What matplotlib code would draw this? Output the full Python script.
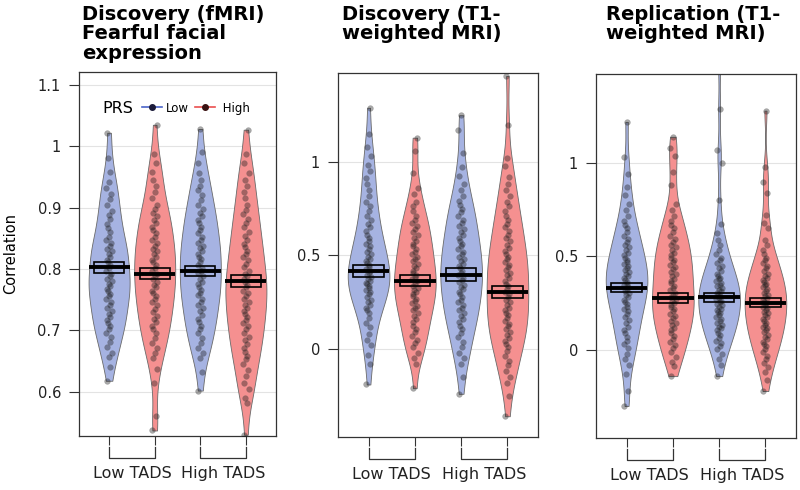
import numpy as np
import matplotlib
matplotlib.use("Agg")
import matplotlib.pyplot as plt
from matplotlib.lines import Line2D
from matplotlib.patches import Rectangle

plt.rcParams['font.family'] = ['DejaVu Sans']

# ---- data ----
titles = ["Discovery (fMRI)\nFearful facial\nexpression",
          "Discovery (T1-\nweighted MRI)",
          "Replication (T1-\nweighted MRI)"]
prs_labels = ["Low", "High"]
tads_labels = ["Low TADS", "High TADS"]

# order in each panel: LowPRS/LowTADS, HighPRS/LowTADS, LowPRS/HighTADS, HighPRS/HighTADS
fmri_low_lo = [0.618, 0.641,
               0.656, 0.664, 0.673, 0.681, 0.689, 0.696,
               0.702, 0.707, 0.712, 0.717, 0.722, 0.727, 0.732, 0.737, 0.742, 0.747,
               0.752, 0.756, 0.760, 0.764, 0.768, 0.772, 0.776, 0.780, 0.784, 0.788,
               0.792, 0.796,
               0.802, 0.806, 0.811, 0.815, 0.820, 0.824, 0.829, 0.833, 0.838, 0.842, 0.847,
               0.853, 0.860, 0.867, 0.874, 0.881, 0.888, 0.895,
               0.905, 0.914, 0.923, 0.932, 0.942,
               0.958, 0.981, 1.022]
fmri_high_lo = [0.537, 0.561, 0.614, 0.637,
                0.655, 0.663, 0.672, 0.680, 0.688, 0.695,
                0.702, 0.708, 0.713, 0.719, 0.724, 0.730, 0.735, 0.741, 0.746,
                0.752, 0.756, 0.761, 0.765, 0.770, 0.774, 0.779, 0.783, 0.788, 0.792, 0.797,
                0.802, 0.806, 0.811, 0.815, 0.820, 0.824, 0.829, 0.833, 0.838, 0.842, 0.847,
                0.853, 0.858, 0.864, 0.869, 0.875, 0.880, 0.886, 0.891, 0.897,
                0.905, 0.915, 0.925, 0.935, 0.945,
                0.958, 0.972, 0.988, 1.035]
fmri_low_hi = [0.602, 0.633,
               0.655, 0.663, 0.672, 0.680, 0.688, 0.696,
               0.703, 0.708, 0.714, 0.719, 0.725, 0.731, 0.736, 0.742, 0.747,
               0.752, 0.757, 0.761, 0.766, 0.770, 0.775, 0.779, 0.784, 0.788, 0.793, 0.797,
               0.802, 0.807, 0.811, 0.816, 0.820, 0.825, 0.829, 0.834, 0.838, 0.843, 0.847,
               0.853, 0.858, 0.864, 0.869, 0.875, 0.880, 0.886, 0.891, 0.897,
               0.904, 0.912, 0.920, 0.928, 0.936, 0.945,
               0.957, 0.972, 0.990, 1.028]
fmri_high_hi = [0.530, 0.582, 0.590,
                0.605, 0.615, 0.625, 0.635, 0.645,
                0.653, 0.659, 0.665, 0.672, 0.678, 0.684, 0.690, 0.696,
                0.702, 0.707, 0.712, 0.717, 0.722, 0.727, 0.732, 0.737, 0.742, 0.747,
                0.752, 0.756, 0.761, 0.765, 0.770, 0.774, 0.779, 0.783, 0.788, 0.792, 0.797,
                0.803, 0.808, 0.814, 0.819, 0.825, 0.830, 0.836, 0.841, 0.847,
                0.854, 0.861, 0.868, 0.875, 0.882, 0.889, 0.896,
                0.905, 0.915, 0.925, 0.935, 0.945,
                0.957, 0.972, 0.988, 1.027]

disc_low_lo = [-0.19, -0.08, -0.03, 0.02, 0.05, 0.08,
               0.115, 0.14, 0.165, 0.19,
               0.207, 0.221, 0.236, 0.25, 0.264, 0.279, 0.293,
               0.305, 0.315, 0.325, 0.335, 0.345, 0.355, 0.365, 0.375, 0.385, 0.395,
               0.405, 0.416, 0.427, 0.438, 0.45, 0.461, 0.472, 0.483, 0.494,
               0.507, 0.521, 0.536, 0.55, 0.564, 0.579, 0.593,
               0.61, 0.63, 0.65, 0.67, 0.69,
               0.712, 0.737, 0.762, 0.787,
               0.817, 0.85, 0.883, 0.917, 0.95, 0.983,
               1.03, 1.08, 1.15, 1.29]
disc_high_lo = [-0.21, -0.08, -0.05, -0.02,
                0.01, 0.03, 0.05, 0.07, 0.09,
                0.108, 0.125, 0.142, 0.158, 0.175, 0.192,
                0.206, 0.219, 0.231, 0.244, 0.256, 0.269, 0.281, 0.294,
                0.306, 0.317, 0.328, 0.339, 0.35, 0.361, 0.372, 0.383, 0.394,
                0.406, 0.419, 0.431, 0.444, 0.456, 0.469, 0.481, 0.494,
                0.507, 0.521, 0.536, 0.55, 0.564, 0.579, 0.593,
                0.608, 0.625, 0.642, 0.658, 0.675, 0.692,
                0.712, 0.737, 0.762, 0.787,
                0.83, 0.86, 0.94, 1.06, 1.13]
disc_low_hi = [-0.24, -0.15, -0.08, -0.05, -0.02,
               0.012, 0.037, 0.062, 0.087,
               0.108, 0.125, 0.142, 0.158, 0.175, 0.192,
               0.207, 0.221, 0.236, 0.25, 0.264, 0.279, 0.293,
               0.306, 0.319, 0.331, 0.344, 0.356, 0.369, 0.381, 0.394,
               0.406, 0.419, 0.431, 0.444, 0.456, 0.469, 0.481, 0.494,
               0.507, 0.521, 0.536, 0.55, 0.564, 0.579, 0.593,
               0.608, 0.625, 0.642, 0.658, 0.675, 0.692,
               0.71, 0.73, 0.75, 0.77, 0.79,
               0.817, 0.85, 0.883, 0.925, 0.975,
               1.05, 1.17, 1.25]
disc_high_hi = [-0.36, -0.25, -0.18, -0.15, -0.12,
                -0.088, -0.063, -0.037, -0.012,
                0.008, 0.025, 0.042, 0.058, 0.075, 0.092,
                0.107, 0.121, 0.136, 0.15, 0.164, 0.179, 0.193,
                0.207, 0.221, 0.236, 0.25, 0.264, 0.279, 0.293,
                0.307, 0.321, 0.336, 0.35, 0.364, 0.379, 0.393,
                0.407, 0.421, 0.436, 0.45, 0.464, 0.479, 0.493,
                0.508, 0.525, 0.542, 0.558, 0.575, 0.592,
                0.61, 0.63, 0.65, 0.67, 0.69,
                0.712, 0.737, 0.762, 0.787,
                0.817, 0.85, 0.883, 0.92, 0.98,
                1.02, 1.2, 1.46]

repl_low_lo = [-0.3, -0.22, -0.13, -0.08, -0.05, -0.02,
               0.01, 0.03, 0.05, 0.07, 0.09,
               0.108, 0.125, 0.142, 0.158, 0.175, 0.192,
               0.206, 0.219, 0.231, 0.244, 0.256, 0.269, 0.281, 0.294,
               0.305, 0.315, 0.325, 0.335, 0.345, 0.355, 0.365, 0.375, 0.385, 0.395,
               0.406, 0.417, 0.428, 0.439, 0.45, 0.461, 0.472, 0.483, 0.494,
               0.507, 0.521, 0.536, 0.55, 0.564, 0.579, 0.593,
               0.61, 0.63, 0.65, 0.67, 0.69,
               0.717, 0.75, 0.783,
               0.83, 0.87, 0.94, 1.03, 1.22]
repl_high_lo = [-0.14, -0.088, -0.063, -0.037, -0.012,
                0.008, 0.025, 0.042, 0.058, 0.075, 0.092,
                0.106, 0.119, 0.131, 0.144, 0.156, 0.169, 0.181, 0.194,
                0.206, 0.217, 0.228, 0.239, 0.25, 0.261, 0.272, 0.283, 0.294,
                0.306, 0.319, 0.331, 0.344, 0.356, 0.369, 0.381, 0.394,
                0.406, 0.419, 0.431, 0.444, 0.456, 0.469, 0.481, 0.494,
                0.507, 0.521, 0.536, 0.55, 0.564, 0.579, 0.593,
                0.61, 0.63, 0.65, 0.67, 0.69,
                0.717, 0.75, 0.783,
                0.88, 0.95, 1.04, 1.08, 1.14]
repl_low_hi = [-0.14, -0.08, -0.05, -0.02,
               0.007, 0.021, 0.036, 0.05, 0.064, 0.079, 0.093,
               0.105, 0.115, 0.125, 0.135, 0.145, 0.155, 0.165, 0.175, 0.185, 0.195,
               0.204, 0.213, 0.221, 0.229, 0.238, 0.246, 0.254, 0.263, 0.271, 0.279,
               0.288, 0.296,
               0.305, 0.314, 0.323, 0.332, 0.341, 0.35, 0.359, 0.368, 0.377, 0.386, 0.395,
               0.407, 0.421, 0.436, 0.45, 0.464, 0.479, 0.493,
               0.512, 0.537, 0.562, 0.587,
               0.625, 0.675,
               0.8, 1.0, 1.07, 1.29, 1.52]
repl_high_hi = [-0.22, -0.16, -0.12,
                -0.09, -0.07, -0.05, -0.03, -0.01,
                0.006, 0.019, 0.031, 0.044, 0.056, 0.069, 0.081, 0.094,
                0.105, 0.115, 0.125, 0.135, 0.145, 0.155, 0.165, 0.175, 0.185, 0.195,
                0.205, 0.214, 0.223, 0.232, 0.241, 0.25, 0.259, 0.268, 0.277, 0.286, 0.295,
                0.305, 0.315, 0.325, 0.335, 0.345, 0.355, 0.365, 0.375, 0.385, 0.395,
                0.407, 0.421, 0.436, 0.45, 0.464, 0.479, 0.493,
                0.512, 0.537, 0.562, 0.587,
                0.65, 0.68, 0.72,
                0.84, 0.9, 0.98, 1.28]

# group means and standard errors (crossbars)
fmri_mean = [0.803, 0.792, 0.797, 0.780]
fmri_se = [0.009, 0.009, 0.0087, 0.0095]
disc_mean = [0.416, 0.365, 0.398, 0.305]
disc_se = [0.033, 0.028, 0.033, 0.032]
repl_mean = [0.334, 0.277, 0.282, 0.253]
repl_se = [0.026, 0.026, 0.025, 0.025]

panels = [
    ([fmri_low_lo, fmri_high_lo, fmri_low_hi, fmri_high_hi], fmri_mean, fmri_se,
     [0.6, 0.7, 0.8, 0.9, 1.0, 1.1], ["0.6", "0.7", "0.8", "0.9", "1", "1.1"], (0.528, 1.121)),
    ([disc_low_lo, disc_high_lo, disc_low_hi, disc_high_hi], disc_mean, disc_se,
     [0, 0.5, 1], ["0", "0.5", "1"], (-0.471, 1.476)),
    ([repl_low_lo, repl_high_lo, repl_low_hi, repl_high_hi], repl_mean, repl_se,
     [0, 0.5, 1], ["0", "0.5", "1"], (-0.471, 1.476)),
]

blue_fill, red_fill = '#a6b3e2', '#f59090'
fills = [blue_fill, red_fill, blue_fill, red_fill]
jit = np.array([-0.05, 0.03, -0.01, 0.06, -0.04, 0.01, 0.04, -0.06, 0.0, 0.02, -0.03])

fig = plt.figure(figsize=(8, 4.9), dpi=100)
W, H = 800., 490.
# axes boxes in pixels: left, top, right, bottom
boxes = [(79, 72, 276, 436), (338, 73, 538, 437), (596, 74, 796, 438)]
title_x = [82, 342, 606]
pos = np.arange(1, 5)

for k, (data, means, ses, yt, ytl, ylim) in enumerate(panels):
    l, t, r, b = boxes[k]
    ax = fig.add_axes([l / W, (H - b) / H, (r - l) / W, (b - t) / H])
    parts = ax.violinplot(data, positions=pos, widths=0.9, showextrema=False,
                          bw_method=0.27, points=250)
    for body, c in zip(parts['bodies'], fills):
        body.set_facecolor(c)
        body.set_edgecolor('#6a6a6a')
        body.set_linewidth(0.6)
        body.set_alpha(1)
        body.set_zorder(2)
    for p, vals in zip(pos, data):
        vals = np.asarray(vals)
        ax.scatter(p + np.resize(jit, len(vals)), vals, s=17, color='#111111',
                   alpha=0.36, linewidths=0.4, edgecolors='#555555', zorder=3)
    for p, m, se in zip(pos, means, ses):
        ax.add_patch(Rectangle((p - 0.33, m - se), 0.66, 2 * se, fill=False,
                               ec='black', lw=1.2, zorder=4))
        ax.hlines(m, p - 0.45, p + 0.45, color='black', lw=2.8, zorder=5)

    ax.set_xlim(0.34, 4.66)
    ax.set_ylim(*ylim)
    ax.set_yticks(yt)
    ax.set_yticklabels(ytl)
    ax.set_xticks(pos)
    ax.set_xticklabels([])
    ax.tick_params(axis='y', length=7, width=0.8, color='#333333', pad=6,
                   labelsize=10.5, labelcolor='#222222')
    ax.tick_params(axis='x', length=6.5, width=0.8, color='#333333')
    ax.yaxis.grid(True, color='#e3e3e3', lw=0.8)
    ax.set_axisbelow(True)
    for s in ax.spines.values():
        s.set_color('#333333')
        s.set_linewidth(0.9)

    # brackets + group labels under the axis
    hgt = float(b - t)
    trans = ax.get_xaxis_transform()
    for (a, c), lab in zip([(1, 2), (3, 4)], tads_labels):
        y0, y1 = -11 / hgt, -22 / hgt
        ax.plot([a, a, c, c], [y0, y1, y1, y0], transform=trans, clip_on=False,
                color='#333333', lw=0.9)
        ax.text((a + c) / 2, -37 / hgt, lab, transform=trans,
                ha='center', va='center', fontsize=11.5, color='#222222')

    fig.text(title_x[k] / W, 1 - 5 / H, titles[k], ha='left', va='top',
             fontsize=14, fontweight='bold', linespacing=1.03)

    if k == 0:
        ax.text(-0.345, 0.5, 'Correlation', transform=ax.transAxes, rotation=90,
                ha='center', va='center', fontsize=10.5)
        handles = [Line2D([], [], color='#4a64c8', marker='o', markersize=4,
                          markerfacecolor='#1b1b3a', markeredgecolor='#1b1b3a', lw=1.2),
                   Line2D([], [], color='#ea4f4f', marker='o', markersize=4,
                          markerfacecolor='#3a1212', markeredgecolor='#3a1212', lw=1.2)]
        ax.text(0.117, 0.901, 'PRS', transform=ax.transAxes, fontsize=11.5,
                va='center', ha='left')
        ax.legend(handles, [prs_labels[0], ' ' + prs_labels[1]], ncol=2,
                  loc='center left', bbox_to_anchor=(0.32, 0.901), frameon=False,
                  handlelength=1.7, handletextpad=0.35, columnspacing=0.5,
                  fontsize=8.5, borderaxespad=0, borderpad=0)

fig.savefig('out.png', dpi=100)
